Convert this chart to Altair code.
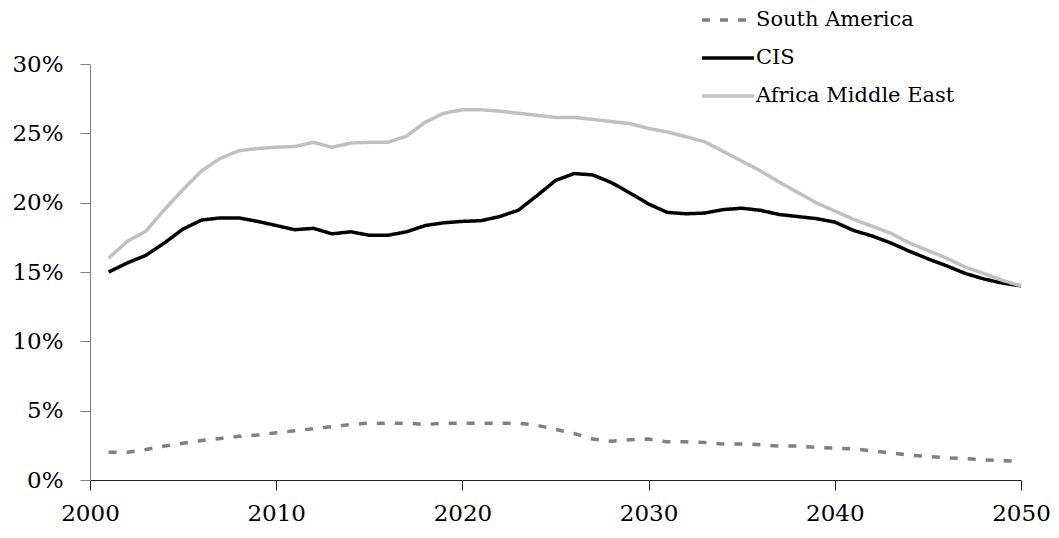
import altair as alt
import pandas as pd

years = list(range(2001, 2051))

south_america = [2.0, 2.0, 2.2, 2.45, 2.65, 2.85, 3.0, 3.15, 3.25, 3.4,
                 3.55, 3.7, 3.85, 4.0, 4.1, 4.1, 4.1, 4.0, 4.1, 4.1,
                 4.1, 4.1, 4.1, 3.95, 3.65, 3.35, 2.95, 2.8, 2.9, 2.95,
                 2.75, 2.75, 2.7, 2.6, 2.6, 2.55, 2.45, 2.45, 2.35, 2.3,
                 2.25, 2.1, 1.95, 1.8, 1.7, 1.6, 1.55, 1.45, 1.4, 1.35]

cis = [15.0, 15.65, 16.2, 17.1, 18.1, 18.75, 18.9, 18.9, 18.65, 18.35,
       18.05, 18.15, 17.75, 17.9, 17.65, 17.65, 17.9, 18.35, 18.55, 18.65,
       18.7, 19.0, 19.45, 20.5, 21.6, 22.1, 22.0, 21.45, 20.7, 19.9,
       19.3, 19.2, 19.25, 19.5, 19.6, 19.45, 19.15, 19.0, 18.85, 18.6,
       18.0, 17.6, 17.1, 16.5, 15.95, 15.45, 14.9, 14.5, 14.2, 14.0]

africa_me = [16.0, 17.2, 17.95, 19.5, 20.95, 22.3, 23.2, 23.75, 23.9, 24.0,
             24.05, 24.35, 24.0, 24.3, 24.35, 24.35, 24.8, 25.8, 26.45, 26.7,
             26.7, 26.6, 26.45, 26.3, 26.15, 26.15, 26.0, 25.85, 25.7, 25.35,
             25.1, 24.75, 24.4, 23.7, 23.0, 22.3, 21.5, 20.75, 20.0, 19.4,
             18.8, 18.3, 17.8, 17.1, 16.55, 16.0, 15.35, 14.9, 14.4, 14.0]

series_names = ["South America", "CIS", "Africa Middle East"]
series_colors = ["#808080", "#000000", "#c0c0c0"]
series_dash = [[8, 10], [1, 0], [1, 0]]
x_ticks = [2000, 2010, 2020, 2030, 2040, 2050]
y_ticks = [0, 5, 10, 15, 20, 25, 30]

rows = []
for name, vals in zip(series_names, [south_america, cis, africa_me]):
    for i, (yr, v) in enumerate(zip(years, vals)):
        rows.append({"year": yr, "value": v, "series": name, "order": i})
df = pd.DataFrame(rows)

FONT = "DejaVu Serif"

chart = alt.Chart(df).mark_line(strokeWidth=3.5, strokeCap="butt", strokeJoin="round").encode(
    x=alt.X("year:Q",
            scale=alt.Scale(domain=[2000, 2050], nice=False, zero=False),
            axis=alt.Axis(values=x_ticks, format="d", title=None, grid=False,
                          domainColor="#222222", tickColor="#222222",
                          tickSize=10, labelPadding=30, labelBaseline="alphabetic",
                          labelFont=FONT, labelFontSize=23, labelColor="#000000",
                          labelFlush=False, labelOverlap=False)),
    y=alt.Y("value:Q",
            scale=alt.Scale(domain=[0, 30], nice=False),
            axis=alt.Axis(values=y_ticks, labelExpr="datum.value + '%'",
                          title=None, grid=False,
                          domainColor="#808080", tickColor="#808080",
                          tickSize=10, labelPadding=17, labelFont=FONT,
                          labelFontSize=23, labelColor="#000000")),
    color=alt.Color("series:N",
                    scale=alt.Scale(domain=series_names, range=series_colors),
                    legend=alt.Legend(title=None)),
    strokeDash=alt.StrokeDash("series:N",
                              scale=alt.Scale(domain=series_names, range=series_dash),
                              legend=alt.Legend(title=None)),
    order="order:Q",
).properties(
    width=931,
    height=416,
    padding={"left": 82, "top": 56, "right": 30, "bottom": 50},
    autosize=alt.AutoSizeParams(type="none"),
).configure_view(
    stroke=None
).configure_legend(
    orient="none",
    legendX=610,
    legendY=-72,
    symbolType="stroke",
    symbolSize=2704,
    symbolStrokeWidth=3.5,
    labelFont=FONT,
    labelFontSize=21,
    labelColor="#000000",
    labelOffset=0,
    rowPadding=-13,
    labelLimit=400,
)

chart.save("out.html", embed_options={"renderer": "svg", "actions": False})
